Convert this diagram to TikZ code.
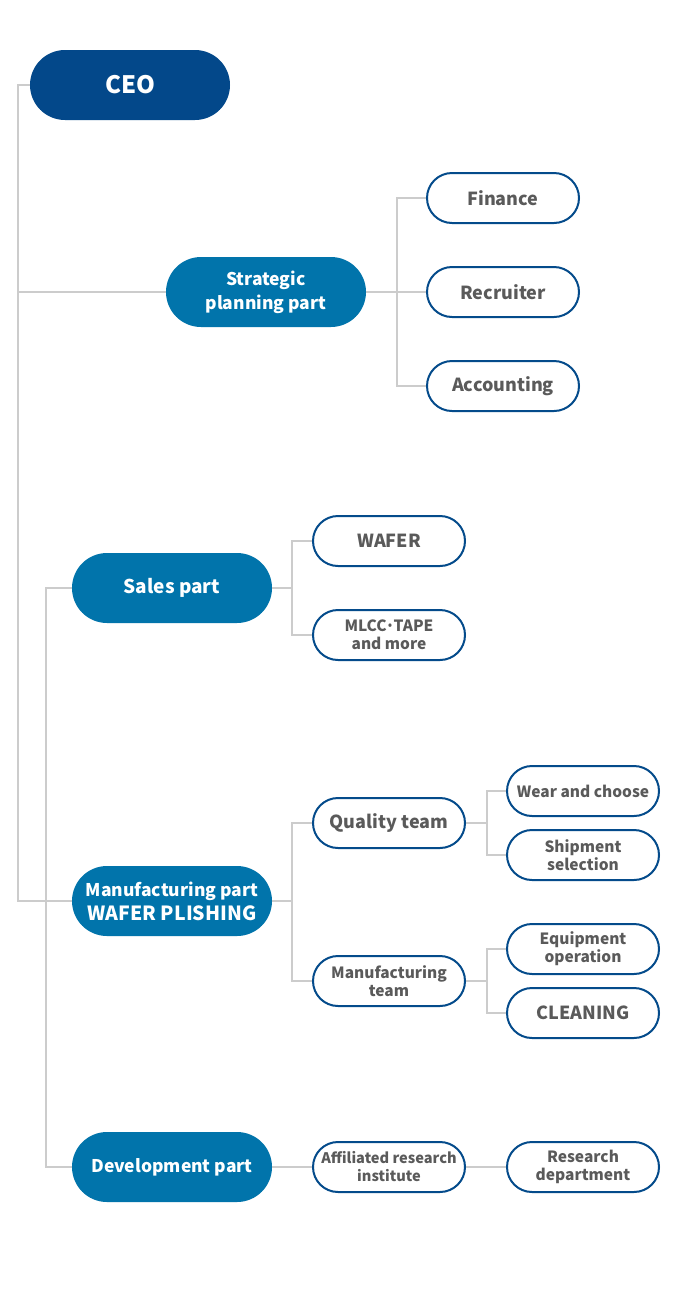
\documentclass[tikz,border=0pt]{standalone}
\usepackage{fontspec}
\setmainfont{Noto Sans CJK KR}
\usetikzlibrary{positioning}
\definecolor{ceoblue}{HTML}{03488A}
\definecolor{partblue}{HTML}{0174AB}
\definecolor{edgeblue}{HTML}{044B8B}
\definecolor{textgrey}{HTML}{5A5A5A}
\definecolor{linegrey}{HTML}{CCCCCC}
\tikzset{
  head/.style={fill=ceoblue,text=white,minimum width=200pt,minimum height=70pt,
    rounded corners=35pt,inner sep=0pt,font=\bfseries\fontsize{24}{28}\selectfont},
  part/.style={fill=partblue,text=white,minimum width=200pt,minimum height=70pt,
    rounded corners=35pt,inner sep=0pt,align=center,font=\bfseries\fontsize{17.5}{24}\selectfont},
  unit/.style={draw=edgeblue,line width=2pt,fill=white,text=textgrey,minimum width=152pt,
    minimum height=50pt,rounded corners=25pt,inner sep=0pt,align=center,
    font=\bfseries\fontsize{18}{20}\selectfont},
  small/.style={font=\bfseries\fontsize{15.5}{18}\selectfont},
  link/.style={draw=linegrey,line width=2pt}
}
\begin{document}
\begin{tikzpicture}[x=1pt,y=-1pt]
 \useasboundingbox[fill=white] (0,0) rectangle (680,1310);
 %\tikzstyle{every node}=[draw=red]

 \node[head] (ceo)   at (130,85)  {CEO};
 \node[part] (strat) at (266,292) {Strategic\\planning part};
 \node[part] (sales) at (172,588) {\fontsize{19}{24}\selectfont Sales part};
 \node[part] (mfg)   at (172,901) {Manufacturing part\\\fontsize{19.5}{24}\selectfont WAFER PLISHING};
 \node[part] (dev)   at (172,1167) {Development part};

 \node[unit]       (fin)  at (503,198) {Finance};
 \node[unit]       (rec)  at (503,292) {Recruiter};
 \node[unit]       (acc)  at (503,386) {Accounting};

 \node[unit]       (wafer) at (389,541) {WAFER};
 \node[unit,small] (mlcc)  at (389,635) {MLCC·TAPE\\and more};

 \node[unit]       (qual) at (389,823) {Quality team};
 \node[unit,small] (mteam) at (389,981) {Manufacturing\\team};
 \node[unit,small] (wear) at (583,791) {Wear and choose};
 \node[unit,small] (ship) at (583,855) {Shipment\\selection};
 \node[unit,small] (equip) at (583,949) {Equipment\\operation};
 \node[unit]       (clean) at (583,1013) {CLEANING};

 \node[unit,small] (inst) at (389,1167) {\fontsize{14.6}{18}\selectfont Affiliated research\\\fontsize{14.6}{18}\selectfont institute};
 \node[unit,small] (resd) at (583,1167) {Research\\department};

 \coordinate (spine1) at (18,0);
 \coordinate (spine2) at (46,0);

 % left spines
 \path[link] (ceo.west) -| (spine1 |- mfg.west) -- (mfg.west)
             (strat.west) -- (strat.west -| spine1)
             (sales.west) -| (spine2 |- dev.west) -- (dev.west);

 \path[link] (strat.east) -- ++(31,0) |- (fin.west)
             (strat.east) -- ++(31,0) |- (acc.west)
             (strat.east) -- (rec.west);

 \path[link] (sales.east) -- ++(20,0) |- (wafer.west)
             (sales.east) -- ++(20,0) |- (mlcc.west);

 \path[link] (mfg.east) -- ++(20,0) |- (qual.west)
             (mfg.east) -- ++(20,0) |- (mteam.west);
 \path[link] (qual.east) -- ++(21,0) |- (wear.west)
             (qual.east) -- ++(21,0) |- (ship.west);
 \path[link] (mteam.east) -- ++(21,0) |- (equip.west)
             (mteam.east) -- ++(21,0) |- (clean.west);

 \path[link] (dev.east) -- (inst.west)
             (inst.east) -- (resd.west);
\end{tikzpicture}
\end{document}
